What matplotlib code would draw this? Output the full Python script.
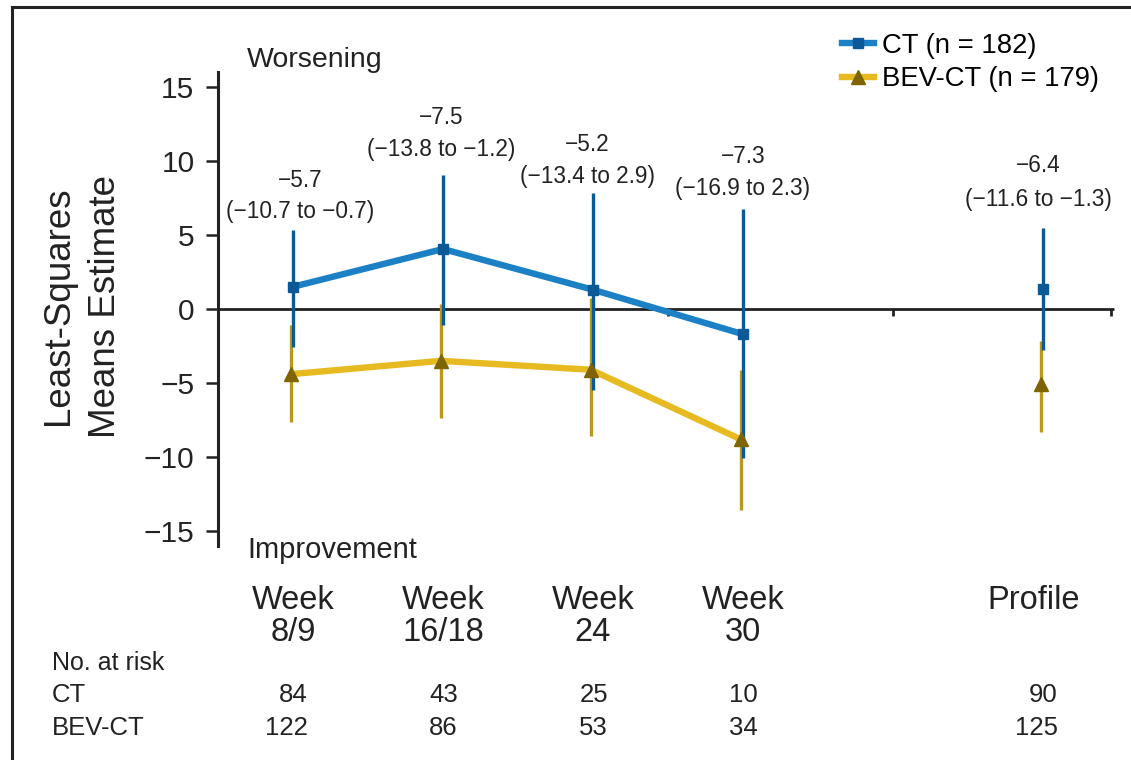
import matplotlib
matplotlib.use("Agg")
import matplotlib.pyplot as plt
import matplotlib.transforms as mtransforms
from matplotlib.lines import Line2D
import numpy as np

# data
x_pos = [0, 1, 2, 3, 5]
time_top = ["Week", "Week", "Week", "Week", "Profile"]
time_bottom = ["8/9", "16/18", "24", "30", ""]

ct_est = [1.5, 4.05, 1.3, -1.7, 1.35]
ct_lo = [-2.55, -1.1, -5.45, -10.05, -2.75]
ct_hi = [5.35, 9.05, 7.85, 6.75, 5.45]

bev_est = [-4.4, -3.5, -4.1, -8.8, -5.05]
bev_lo = [-7.6, -7.35, -8.6, -13.6, -8.3]
bev_hi = [-1.1, 0.35, 0.75, -4.1, -2.15]

diff_est = ["\u22125.7", "\u22127.5", "\u22125.2", "\u22127.3", "\u22126.4"]
diff_ci = ["(\u221210.7 to \u22120.7)", "(\u221213.8 to \u22121.2)",
           "(\u221213.4 to 2.9)", "(\u221216.9 to 2.3)", "(\u221211.6 to \u22121.3)"]

ct_n = [84, 43, 25, 10, 90]
bev_n = [122, 86, 53, 34, 125]

# style
ct_line = "#1b80c4"
ct_dark = "#0b5a97"
bev_line = "#e8ba22"
bev_bar = "#b8981f"
bev_mark = "#7f6500"
ink = "#222222"
n_weeks = 4
bev_dx = -0.015

plt.rcParams["font.family"] = ["Liberation Sans", "DejaVu Sans"]

W, H = 1131, 760
fig = plt.figure(figsize=(W / 100, H / 100), dpi=100)
ax = fig.add_axes([218 / W, 1 - 546 / H, 907.5 / W, 474 / H])
ax.set_xlim(-0.5, 5.55)
ax.set_ylim(-16, 16)

# zero line with its small ticks
ax.hlines(0, -0.5, 5.47, color=ink, lw=2, zorder=1)
ax.vlines([2.5, 4.0, 5.45], -0.45, 0, color=ink, lw=2, zorder=1)

xp = np.array(x_pos, dtype=float)
ct_est_a, bev_est_a = np.array(ct_est), np.array(bev_est)

ax.plot(xp[:n_weeks], ct_est_a[:n_weeks], color=ct_line, lw=4.6, zorder=3,
        solid_capstyle="butt")
ax.plot(xp[:n_weeks] + bev_dx, bev_est_a[:n_weeks], color=bev_line, lw=4.6,
        zorder=3, solid_capstyle="butt")

ax.errorbar(xp + bev_dx, bev_est_a,
            yerr=[bev_est_a - np.array(bev_lo), np.array(bev_hi) - bev_est_a],
            fmt="none", ecolor=bev_bar, elinewidth=2.4, capsize=0, zorder=4)
ax.errorbar(xp, ct_est_a,
            yerr=[ct_est_a - np.array(ct_lo), np.array(ct_hi) - ct_est_a],
            fmt="none", ecolor=ct_dark, elinewidth=2.4, capsize=0, zorder=5)
ax.plot(xp, ct_est_a, "s", color=ct_dark, ms=7.5, zorder=6)
ax.plot(xp + bev_dx, bev_est_a, "^", color=bev_mark, ms=10, zorder=6)

# difference annotations
est_y = [8.7, 12.9, 11.1, 10.3, 9.7]
ci_y = [6.55, 10.75, 8.95, 8.15, 7.4]
ann_dx = [0.05, -0.01, -0.04, 0.0, -0.03]
for i, x in enumerate(x_pos):
    ax.text(x + ann_dx[i], est_y[i], diff_est[i], ha="center", va="center",
            fontsize=16.3, color=ink)
    ax.text(x + ann_dx[i], ci_y[i], diff_ci[i], ha="center", va="center",
            fontsize=16.3, color=ink)

# axis styling
for s in ["top", "right", "bottom"]:
    ax.spines[s].set_visible(False)
ax.spines["left"].set_linewidth(2.2)
ax.spines["left"].set_color(ink)
ax.set_yticks([-15, -10, -5, 0, 5, 10, 15])
ax.tick_params(axis="y", direction="out", length=9, width=1.8, labelsize=21.5,
               colors=ink, pad=8)
ax.set_xticks([])

ax.text(0.032, 1.025, "Worsening", transform=ax.transAxes, fontsize=20.5,
        color=ink, ha="left", va="center")
ax.text(0.032, -0.008, "Improvement", transform=ax.transAxes, fontsize=21,
        color=ink, ha="left", va="center")

# y label
fig.text(82 / W, 1 - 306 / H, "Least-Squares\nMeans Estimate", rotation=90,
         ha="center", va="center", fontsize=26.5, color=ink, linespacing=1.45)

# legend
handles = [
    Line2D([], [], color=ct_line, lw=4.6, marker="s", ms=7.5,
           markerfacecolor=ct_dark, markeredgecolor=ct_dark),
    Line2D([], [], color=bev_line, lw=4.6, marker="^", ms=10,
           markerfacecolor=bev_mark, markeredgecolor=bev_mark),
]
fig.legend(handles, ["CT (n = 182)", "BEV-CT (n = 179)"], loc="upper left",
           bbox_to_anchor=(842 / W, 1 - 33 / H), frameon=False, fontsize=19.8,
           handlelength=1.15, handletextpad=0.3, labelspacing=0.27,
           borderpad=0, borderaxespad=0)

# bottom table
tr = mtransforms.blended_transform_factory(ax.transData, fig.transFigure)
prof_dx = [0, 0, 0, 0, -0.06]
for i, x in enumerate(x_pos):
    ax.text(x + prof_dx[i], 1 - 609 / H, time_top[i], transform=tr, ha="center",
            va="baseline", fontsize=23.5, color=ink)
    ax.text(x, 1 - 641 / H, time_bottom[i], transform=tr, ha="center",
            va="baseline", fontsize=23.5, color=ink)
    ax.text(x + 0.1, 1 - 702 / H, str(ct_n[i]), transform=tr, ha="right",
            va="baseline", fontsize=18.5, color=ink)
    ax.text(x + 0.1, 1 - 735 / H, str(bev_n[i]), transform=tr, ha="right",
            va="baseline", fontsize=18.5, color=ink)

fig.text(52 / W, 1 - 670 / H, "No. at risk", fontsize=18, color=ink, va="baseline")
fig.text(52 / W, 1 - 702 / H, "CT", fontsize=18.5, color=ink, va="baseline")
fig.text(52 / W, 1 - 735 / H, "BEV-CT", fontsize=18.5, color=ink, va="baseline")

# outer frame (top and left)
fig.add_artist(Line2D([12 / W, 1], [1 - 7 / H, 1 - 7 / H], color=ink, lw=2.2,
                      transform=fig.transFigure))
fig.add_artist(Line2D([12 / W, 12 / W], [0, 1 - 7 / H], color=ink, lw=2.2,
                      transform=fig.transFigure))

fig.savefig("out.png", dpi=100)
